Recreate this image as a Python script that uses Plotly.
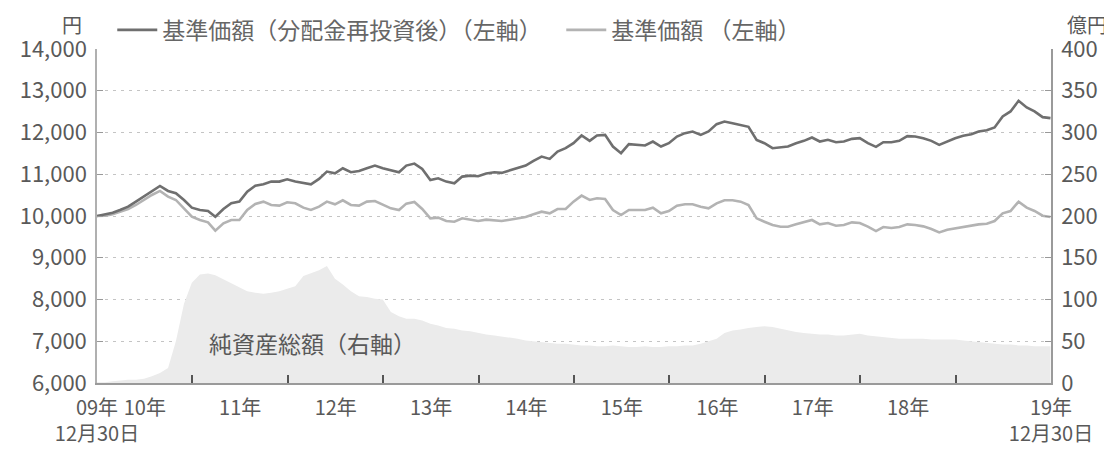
import pandas as pd
import plotly.graph_objects as go

# Monthly dates from 2009-12-30 to 2019-12-30
dates = pd.date_range("2009-12-30", periods=121, freq=pd.DateOffset(months=1))

nav_reinvested = [
    10000, 10040, 10080, 10144, 10224, 10344, 10464, 10584, 10720, 10600,
    10544, 10384, 10200, 10144, 10120, 9984, 10168, 10304, 10344, 10584,
    10728, 10760, 10824, 10824, 10880, 10824, 10792, 10760, 10888, 11064,
    11024, 11144, 11048, 11080, 11144, 11208, 11144, 11104, 11048, 11208,
    11256, 11128, 10864, 10904, 10824, 10784, 10944, 10968, 10952, 11016,
    11048, 11032, 11096, 11144, 11208, 11320, 11424, 11368, 11544, 11624,
    11744, 11928, 11800, 11928, 11944, 11664, 11504, 11720, 11704, 11688,
    11784, 11664, 11744, 11904, 11984, 12024, 11944, 12024, 12200, 12264,
    12224, 12184, 12136, 11824, 11744, 11624, 11640, 11664, 11744, 11800,
    11880, 11784, 11824, 11768, 11784, 11848, 11864, 11744, 11656, 11768,
    11768, 11800, 11912, 11904, 11864, 11800, 11704, 11784, 11864, 11920,
    11960, 12024, 12056, 12120, 12384, 12504, 12760, 12600, 12504, 12368,
    12344,
]

nav = [
    10000, 10008, 10040, 10104, 10168, 10264, 10384, 10504, 10600, 10464,
    10384, 10184, 9984, 9904, 9848, 9648, 9824, 9904, 9904, 10144,
    10288, 10344, 10264, 10248, 10328, 10304, 10200, 10144, 10224, 10344,
    10280, 10376, 10264, 10248, 10344, 10360, 10280, 10184, 10144, 10296,
    10336, 10168, 9944, 9960, 9880, 9864, 9944, 9904, 9880, 9912,
    9904, 9880, 9912, 9944, 9976, 10040, 10104, 10064, 10168, 10168,
    10344, 10488, 10384, 10424, 10408, 10144, 10024, 10144, 10144, 10144,
    10200, 10064, 10120, 10248, 10280, 10280, 10224, 10184, 10304, 10376,
    10376, 10344, 10264, 9944, 9864, 9784, 9744, 9744, 9800, 9848,
    9904, 9800, 9832, 9768, 9784, 9848, 9832, 9744, 9640, 9736,
    9712, 9736, 9800, 9784, 9752, 9688, 9608, 9672, 9704, 9744,
    9784, 9800, 9816, 9880, 10064, 10120, 10344, 10200, 10120, 10008,
    9976,
]

net_assets = [
    1, 1, 2, 3, 4, 4, 5, 8, 12, 18,
    50, 95, 120, 130, 131, 129, 124, 119, 114, 110,
    108, 107, 108, 110, 113, 116, 128, 131, 135, 140,
    125, 118, 110, 104, 103, 101, 100, 85, 80, 77,
    77, 75, 71, 69, 66, 65, 63, 62, 60, 58,
    57, 56, 54, 53, 51, 50, 49, 48, 47, 47,
    46, 45, 45, 44, 44, 45, 44, 43, 43, 44,
    43, 43, 44, 44, 45, 45, 47, 50, 53, 60,
    63, 64, 66, 67, 68, 67, 65, 63, 61, 60,
    59, 58, 58, 57, 57, 58, 59, 57, 56, 55,
    54, 53, 53, 53, 53, 52, 52, 52, 52, 51,
    50, 49, 48, 47, 46, 46, 45, 45, 44, 44,
    44,
]

label_dates = ["2009-12-30", "2010-07-01", "2011-07-01", "2012-07-01", "2013-07-01",
               "2014-07-01", "2015-07-01", "2016-07-01", "2017-07-01", "2018-07-01",
               "2019-12-30"]
label_texts = ["09年<br>12月30日", "10年", "11年", "12年", "13年", "14年", "15年",
               "16年", "17年", "18年", "19年<br>12月30日"]
year_end_ticks = ["2010-12-30", "2011-12-30", "2012-12-30", "2013-12-30", "2014-12-30",
                  "2015-12-30", "2016-12-30", "2017-12-30", "2018-12-30"]
left_ticks = [6000, 7000, 8000, 9000, 10000, 11000, 12000, 13000, 14000]
right_ticks = [0, 50, 100, 150, 200, 250, 300, 350, 400]

FONT = "Noto Sans CJK JP"
TXT = "#595959"

fig = go.Figure()
fig.add_trace(go.Scatter(
    x=dates, y=net_assets, yaxis="y2", mode="lines", line=dict(width=0, color="#ebebeb"),
    fill="tozeroy", fillcolor="#ebebeb", showlegend=False, hoverinfo="skip"))
fig.add_trace(go.Scatter(
    x=dates, y=nav, mode="lines", name="基準価額 （左軸）",
    line=dict(color="#b3b3b3", width=2.6), legendrank=2))
fig.add_trace(go.Scatter(
    x=dates, y=nav_reinvested, mode="lines", name="基準価額（分配金再投資後）（左軸）",
    line=dict(color="#6f6f6f", width=2.6), legendrank=1))

fig.update_layout(
    width=1112, height=450,
    margin=dict(l=89, r=69, t=41, b=75, autoexpand=False),
    paper_bgcolor="white", plot_bgcolor="white",
    font=dict(family=FONT, size=21, color=TXT),
    showlegend=True,
    legend=dict(orientation="h", x=0.016, y=1.057, xanchor="left", yanchor="middle",
                font=dict(size=23, color="#666666"), bgcolor="rgba(0,0,0,0)",
                itemwidth=40, tracegroupgap=0, entrywidth=394, entrywidthmode="pixels"),
    xaxis=dict(type="date", range=["2009-12-30", "2019-12-30"],
               tickmode="array", tickvals=label_dates, ticktext=label_texts,
               tickangle=0, automargin=False, ticklabelstandoff=6,
               ticks="", showgrid=False, zeroline=False,
               showline=True, linecolor="#9a9a9a", linewidth=1.5,
               tickfont=dict(size=20, color=TXT),
               minor=dict(tickmode="array", tickvals=year_end_ticks, ticks="inside",
                          ticklen=8, tickwidth=1.5, tickcolor="#555555", showgrid=False)),
    yaxis=dict(range=[6000, 14000], tickmode="array", tickvals=left_ticks,
               tickformat=",d", ticks="inside", ticklen=6, tickcolor="#999999",
               showline=True, linecolor="#b0b0b0", linewidth=1.5, automargin=False,
               ticklabelstandoff=4,
               showgrid=True, gridcolor="#c4c4c4", griddash="3px,5px", gridwidth=1,
               zeroline=False, tickfont=dict(size=22, color=TXT)),
    yaxis2=dict(range=[0, 400], tickmode="array", tickvals=right_ticks,
                overlaying="y", side="right", ticks="inside", ticklen=6, automargin=False,
                ticklabelstandoff=4,
                tickcolor="#999999", showline=True, linecolor="#9a9a9a", linewidth=1.5,
                showgrid=False, zeroline=False, tickfont=dict(size=22, color=TXT)),
    annotations=[
        dict(text="円", xref="paper", yref="paper", x=-0.026, y=1.074,
             showarrow=False, font=dict(size=20, color=TXT), xanchor="center", yanchor="middle"),
        dict(text="億円", xref="paper", yref="paper", x=1.038, y=1.074,
             showarrow=False, font=dict(size=20, color=TXT), xanchor="center", yanchor="middle"),
        dict(text="純資産総額（右軸）", xref="paper", yref="paper", x=0.2254, y=0.12,
             showarrow=False, font=dict(size=23, color=TXT), xanchor="center", yanchor="middle"),
    ],
)

fig.write_html("out.html")
